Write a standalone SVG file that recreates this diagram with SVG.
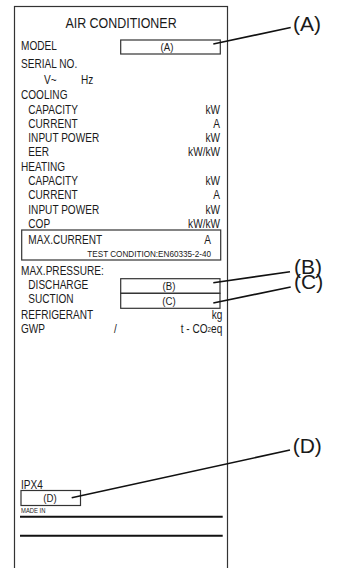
<svg xmlns="http://www.w3.org/2000/svg" width="338" height="568" viewBox="0 0 338 568">
<style>
.t{font-family:"Liberation Sans",Arial,sans-serif;font-size:12px;fill:#1a1a1a}
.r{text-anchor:end}
.m{text-anchor:middle}
.s{font-size:9.7px}
.c{font-family:"Liberation Sans",Arial,sans-serif;font-size:21px;fill:#1a1a1a}
.b{fill:none;stroke:#333;stroke-width:1.2}
.ln{fill:none;stroke:#111;stroke-width:1.6}
</style>
<rect width="338" height="568" fill="#fff"/>
<g id="label">
<rect class="b" x="14.5" y="6.5" width="213" height="570"/>
<text class="t m" transform="translate(121,27.5) scale(0.83,1)" style="font-size:15px">AIR CONDITIONER</text>
<text class="t" transform="translate(21,50) scale(0.84,1)">MODEL</text>
<text class="t" transform="translate(21,67.5) scale(0.84,1)">SERIAL NO.</text>
<text class="t" transform="translate(44,84) scale(0.84,1)">V~</text>
<text class="t" transform="translate(81,84) scale(0.84,1)">Hz</text>
<text class="t" transform="translate(21,99) scale(0.84,1)">COOLING</text>
<text class="t" transform="translate(28.3,113.5) scale(0.84,1)">CAPACITY</text><text class="t r" transform="translate(220,113.5) scale(0.84,1)">kW</text>
<text class="t" transform="translate(28.3,127.5) scale(0.84,1)">CURRENT</text><text class="t r" transform="translate(220,127.5) scale(0.84,1)">A</text>
<text class="t" transform="translate(28.3,142) scale(0.84,1)">INPUT POWER</text><text class="t r" transform="translate(220,142) scale(0.84,1)">kW</text>
<text class="t" transform="translate(28.3,156) scale(0.84,1)">EER</text><text class="t r" transform="translate(220,156) scale(0.84,1)">kW/kW</text>
<text class="t" transform="translate(21,170.5) scale(0.84,1)">HEATING</text>
<text class="t" transform="translate(28.3,185) scale(0.84,1)">CAPACITY</text><text class="t r" transform="translate(220,185) scale(0.84,1)">kW</text>
<text class="t" transform="translate(28.3,199) scale(0.84,1)">CURRENT</text><text class="t r" transform="translate(220,199) scale(0.84,1)">A</text>
<text class="t" transform="translate(28.3,213.5) scale(0.84,1)">INPUT POWER</text><text class="t r" transform="translate(220,213.5) scale(0.84,1)">kW</text>
<text class="t" transform="translate(28.3,227.5) scale(0.84,1)">COP</text><text class="t r" transform="translate(220,227.5) scale(0.84,1)">kW/kW</text>
</g>
<g id="maxcurrent">
<rect class="b" x="21.7" y="230" width="199" height="30"/>
<text class="t" transform="translate(28.3,244) scale(0.84,1)">MAX.CURRENT</text><text class="t r" transform="translate(211,244) scale(0.84,1)">A</text>
<text class="t r s" transform="translate(211,256.5) scale(0.84,1)">TEST CONDITION:EN60335-2-40</text>
</g>
<g id="pressure">
<text class="t" transform="translate(21,275) scale(0.84,1)">MAX.PRESSURE:</text>
<text class="t" transform="translate(28.3,289.3) scale(0.84,1)">DISCHARGE</text>
<text class="t" transform="translate(28.3,302.7) scale(0.84,1)">SUCTION</text>
<text class="t" transform="translate(21,319) scale(0.84,1)">REFRIGERANT</text><text class="t r" transform="translate(222.3,319) scale(0.84,1)">kg</text>
<text class="t" transform="translate(21,333) scale(0.84,1)">GWP</text>
<text class="t" transform="translate(114,333) scale(0.84,1)">/</text>
<text class="t r" transform="translate(222.3,333) scale(0.84,1)">t - CO<tspan style="font-size:7.5px" dy="-1.5">2</tspan><tspan dy="1.5">eq</tspan></text>
</g>
<g id="boxA">
<rect class="b" x="120.7" y="40" width="99.6" height="14"/>
<text class="t m" transform="translate(167,50.5) scale(0.84,1)" style="font-size:11.5px">(A)</text>
</g>
<g id="boxB">
<rect class="b" x="120.7" y="278.7" width="99.3" height="14.6"/>
<text class="t m" transform="translate(169,290) scale(0.84,1)" style="font-size:11.5px">(B)</text>
</g>
<g id="boxC">
<rect class="b" x="120.7" y="293.3" width="99.3" height="15"/>
<text class="t m" transform="translate(169,304.5) scale(0.84,1)" style="font-size:11.5px">(C)</text>
</g>
<g id="bottom">
<text class="t" transform="translate(21,489.3) scale(0.84,1)">IPX4</text>
<text class="t" transform="translate(21,512.7) scale(0.84,1)" style="font-size:7px">MADE IN</text>
<line x1="20" y1="516.7" x2="222.7" y2="516.7" stroke="#111" stroke-width="2"/>
<line x1="20" y1="535.7" x2="222.7" y2="535.7" stroke="#111" stroke-width="2"/>
</g>
<g id="boxD">
<rect class="b" x="21" y="490.5" width="59.5" height="15"/>
<text class="t m" transform="translate(50,501.7) scale(0.84,1)" style="font-size:11.5px">(D)</text>
</g>
<g id="callouts">
<text id="calloutA" class="c" x="293" y="31">(A)</text>
<text id="calloutB" class="c" x="294" y="273.5">(B)</text>
<text id="calloutC" class="c" x="294" y="289">(C)</text>
<text id="calloutD" class="c" x="292.7" y="453">(D)</text>
</g>
<g id="connectors">
<line class="ln" x1="213.3" y1="44" x2="290.7" y2="27.5"/>
<line class="ln" x1="213.3" y1="282.7" x2="290" y2="271.7"/>
<line class="ln" x1="213.3" y1="303" x2="290.7" y2="287"/>
<line class="ln" x1="71.7" y1="497.8" x2="290" y2="450"/>
</g>
</svg>
